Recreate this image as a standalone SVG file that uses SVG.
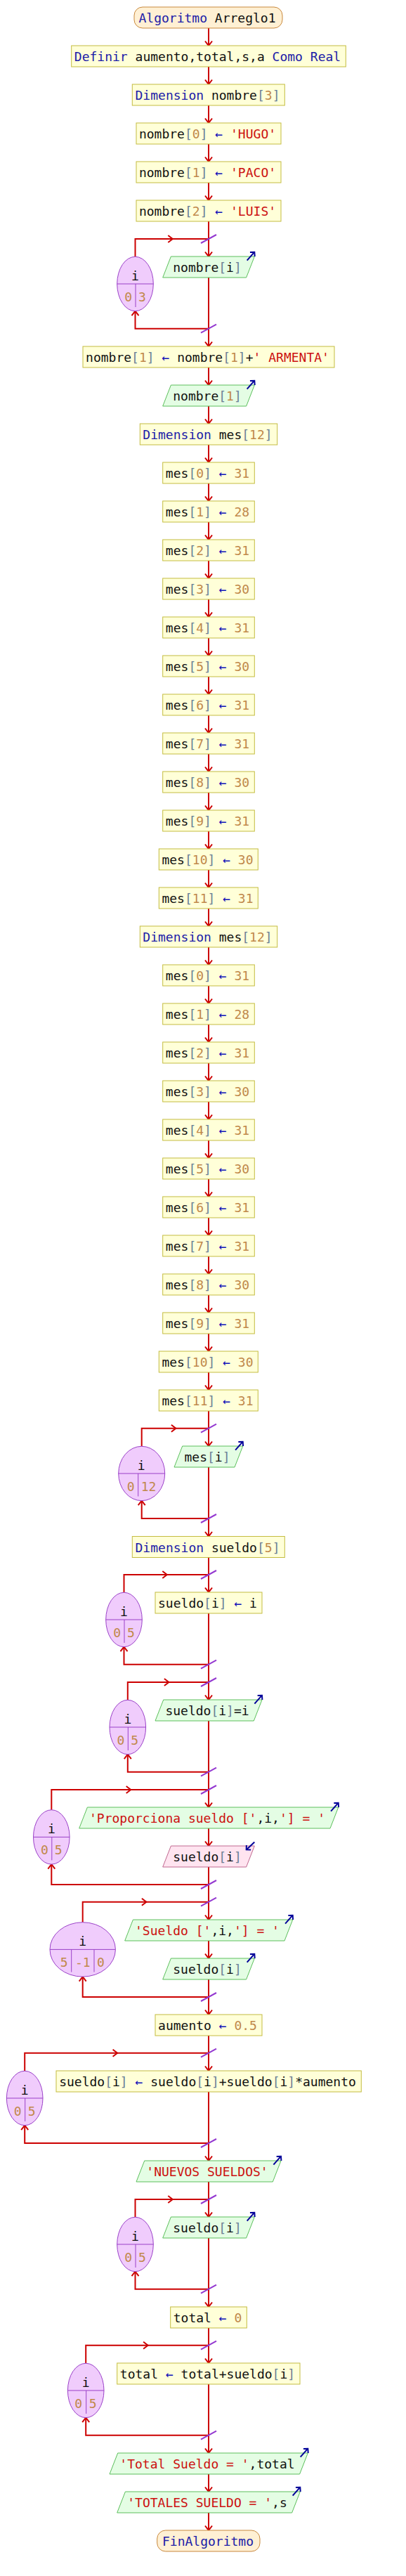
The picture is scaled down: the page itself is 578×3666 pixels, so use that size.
<svg xmlns="http://www.w3.org/2000/svg" width="578" height="3666" viewBox="0 0 578 3666">
<style>
.c{fill:none;stroke:#cc0000;stroke-width:2}
.m{marker-end:url(#ar)}
.t{fill:none;stroke:#9438d0;stroke-width:2}
.io{fill:none;stroke:#000099;stroke-width:2;marker-end:url(#ab)}
.pr{fill:#ffffd8;stroke:#c4bc40;stroke-width:1}
.se{fill:#fff0d4;stroke:#c8883c;stroke-width:1}
.ou{fill:#e4fde4;stroke:#5cbf5c;stroke-width:1}
.in{fill:#ffe4f0;stroke:#c06890;stroke-width:1}
.lp{fill:#f0ccfc;stroke:#9a40c8;stroke-width:1}
.ll{fill:none;stroke:#9a40c8;stroke-width:1}
text{font-family:"DejaVu Sans Mono","Liberation Mono",monospace;font-size:18px;fill:#111;text-anchor:middle}
text.e{text-anchor:end}
text.st{text-anchor:start}
.k{fill:#2020a8}
.n{fill:#c0884a}
.b{fill:#6b8096}
.s{fill:#cc1010}
.a{fill:#1010b8}
</style>
<defs>
<marker id="ar" viewBox="0 0 12 12" refX="11" refY="6" markerWidth="12" markerHeight="12" markerUnits="userSpaceOnUse" orient="auto" style="overflow:visible"><path d="M4.5,1 L11,6 L4.5,11" fill="none" stroke="#cc0000" stroke-width="2"/></marker>
<marker id="ab" viewBox="0 0 12 12" refX="11" refY="6" markerWidth="12" markerHeight="12" markerUnits="userSpaceOnUse" orient="auto" style="overflow:visible"><path d="M6.5,1.5 L11,6 L6.5,10.5" fill="none" stroke="#000099" stroke-width="2"/></marker>
</defs>
<rect width="578" height="3666" fill="#ffffff"/>
<g id="connectors">
<path class="c m" d="M297,40V65"/>
<path class="c m" d="M297,95V120"/>
<path class="c m" d="M297,150V175"/>
<path class="c m" d="M297,205V230"/>
<path class="c m" d="M297,260V285"/>
<path class="c m" d="M297,315V365"/>
<path class="c m" d="M297,395V493"/>
<path class="c m" d="M297,523V548"/>
<path class="c m" d="M297,578V603"/>
<path class="c m" d="M297,633V658"/>
<path class="c m" d="M297,688V713"/>
<path class="c m" d="M297,743V768"/>
<path class="c m" d="M297,798V823"/>
<path class="c m" d="M297,853V878"/>
<path class="c m" d="M297,908V933"/>
<path class="c m" d="M297,963V988"/>
<path class="c m" d="M297,1018V1043"/>
<path class="c m" d="M297,1073V1098"/>
<path class="c m" d="M297,1128V1153"/>
<path class="c m" d="M297,1183V1208"/>
<path class="c m" d="M297,1238V1263"/>
<path class="c m" d="M297,1293V1318"/>
<path class="c m" d="M297,1348V1373"/>
<path class="c m" d="M297,1403V1428"/>
<path class="c m" d="M297,1458V1483"/>
<path class="c m" d="M297,1513V1538"/>
<path class="c m" d="M297,1568V1593"/>
<path class="c m" d="M297,1623V1648"/>
<path class="c m" d="M297,1678V1703"/>
<path class="c m" d="M297,1733V1758"/>
<path class="c m" d="M297,1788V1813"/>
<path class="c m" d="M297,1843V1868"/>
<path class="c m" d="M297,1898V1923"/>
<path class="c m" d="M297,1953V1978"/>
<path class="c m" d="M297,2008V2058"/>
<path class="c m" d="M297,2088V2186.5"/>
<path class="c m" d="M297,2216.5V2266"/>
<path class="c m" d="M297,2296V2419"/>
<path class="c m" d="M297,2449V2572"/>
<path class="c m" d="M297,2602V2627"/>
<path class="c m" d="M297,2657V2732"/>
<path class="c m" d="M297,2762V2787"/>
<path class="c m" d="M297,2817V2867"/>
<path class="c m" d="M297,2897V2947"/>
<path class="c m" d="M297,2977V3075"/>
<path class="c m" d="M297,3105V3155"/>
<path class="c m" d="M297,3185V3283"/>
<path class="c m" d="M297,3313V3363"/>
<path class="c m" d="M297,3393V3491"/>
<path class="c m" d="M297,3521V3546"/>
<path class="c m" d="M297,3576V3601"/>
<path class="c m" d="M192.5,365.3V340H245.8"/><path class="c" d="M245.8,340H297"/><path class="c m" d="M297,467.7H192.5V442.7"/>
<path class="c m" d="M201.7,2058.3V2032.7H250.4"/><path class="c" d="M250.4,2032.7H297"/><path class="c m" d="M297,2161H201.7V2135.7"/>
<path class="c m" d="M176.5,2266.3V2241H237.8"/><path class="c" d="M237.8,2241H297"/><path class="c m" d="M297,2368.7H176.5V2343.7"/>
<path class="c m" d="M181.8,2419.3V2394H240.4"/><path class="c" d="M240.4,2394H297"/><path class="c m" d="M297,2521.7H181.8V2496.7"/>
<path class="c m" d="M73.3,2575.7V2547H186.2"/><path class="c" d="M186.2,2547H297"/><path class="c m" d="M297,2682H73.3V2653.1"/>
<path class="c m" d="M117.7,2735.7V2706.7H208.4"/><path class="c" d="M208.4,2706.7H297"/><path class="c m" d="M297,2842H117.7V2813.1"/>
<path class="c m" d="M35.2,2947.3V2921.7H167.1"/><path class="c" d="M167.1,2921.7H297"/><path class="c m" d="M297,3050H35.2V3024.7"/>
<path class="c m" d="M192.5,3155.3V3130H245.8"/><path class="c" d="M245.8,3130H297"/><path class="c m" d="M297,3257.7H192.5V3232.7"/>
<path class="c m" d="M122.2,3363.3V3337.7H210.6"/><path class="c" d="M210.6,3337.7H297"/><path class="c m" d="M297,3465.7H122.2V3440.7"/>
<path class="t" d="M286,346L308,334M286,473.7L308,461.7M286,2038.7L308,2026.7M286,2167L308,2155M286,2247L308,2235M286,2374.7L308,2362.7M286,2400L308,2388M286,2527.7L308,2515.7M286,2553L308,2541M286,2688L308,2676M286,2712.7L308,2700.7M286,2848L308,2836M286,2927.7L308,2915.7M286,3056L308,3044M286,3136L308,3124M286,3263.7L308,3251.7M286,3343.7L308,3331.7M286,3471.7L308,3459.7"/>
</g>
<g id="start"><rect class="se" x="191" y="10" width="211" height="30" rx="12"/><text x="295" y="32"><tspan class="k">Algoritmo</tspan> Arreglo1</text></g>
<g id="definir"><rect class="pr" x="101.7" y="65" width="390.6" height="30"/><text x="295.5" y="87"><tspan class="k">Definir</tspan> aumento,total,s,a <tspan class="k">Como Real</tspan></text></g>
<g id="dim-nombre"><rect class="pr" x="188.3" y="120" width="217" height="30"/><text x="295.5" y="142"><tspan class="k">Dimension</tspan> nombre<tspan class="b">[</tspan><tspan class="n">3</tspan><tspan class="b">]</tspan></text></g>
<g id="nombre0"><rect class="pr" x="194" y="175" width="206" height="30"/><text x="295.5" y="197">nombre<tspan class="b">[</tspan><tspan class="n">0</tspan><tspan class="b">]</tspan> <tspan class="a">←</tspan> <tspan class="s">'HUGO'</tspan></text></g>
<g id="nombre1"><rect class="pr" x="194" y="230" width="206" height="30"/><text x="295.5" y="252">nombre<tspan class="b">[</tspan><tspan class="n">1</tspan><tspan class="b">]</tspan> <tspan class="a">←</tspan> <tspan class="s">'PACO'</tspan></text></g>
<g id="nombre2"><rect class="pr" x="194" y="285" width="206" height="30"/><text x="295.5" y="307">nombre<tspan class="b">[</tspan><tspan class="n">2</tspan><tspan class="b">]</tspan> <tspan class="a">←</tspan> <tspan class="s">'LUIS'</tspan></text></g>
<g id="for1"><ellipse class="lp" cx="192.5" cy="404" rx="25.8" ry="38.7"/><path class="ll" d="M166.7,404H218.3M193,404V437"/><text x="192.5" y="399">i</text><text class="e n" x="188" y="429">0</text><text class="st n" x="197" y="429">3</text></g>
<g id="out-nombre-i"><polygon class="ou" points="243.4,365 362.3,365 350.6,395 231.7,395"/><path class="io" d="M351.7,370.7L362.3,358.7"/><text x="295" y="387">nombre<tspan class="b">[</tspan>i<tspan class="b">]</tspan></text></g>
<g id="armenta"><rect class="pr" x="118" y="493" width="358" height="30"/><text x="295.5" y="515">nombre<tspan class="b">[</tspan><tspan class="n">1</tspan><tspan class="b">]</tspan> <tspan class="a">←</tspan> nombre<tspan class="b">[</tspan><tspan class="n">1</tspan><tspan class="b">]</tspan>+<tspan class="s">' ARMENTA'</tspan></text></g>
<g id="out-nombre1"><polygon class="ou" points="243.4,548 362.3,548 350.6,578 231.7,578"/><path class="io" d="M351.7,553.7L362.3,541.7"/><text x="295" y="570">nombre<tspan class="b">[</tspan><tspan class="n">1</tspan><tspan class="b">]</tspan></text></g>
<g id="dim-mes-a"><rect class="pr" x="199.3" y="603" width="195.4" height="30"/><text x="295.5" y="625"><tspan class="k">Dimension</tspan> mes<tspan class="b">[</tspan><tspan class="n">12</tspan><tspan class="b">]</tspan></text></g>
<g id="mes-a0"><rect class="pr" x="231.7" y="658" width="130.6" height="30"/><text x="295.5" y="680">mes<tspan class="b">[</tspan><tspan class="n">0</tspan><tspan class="b">]</tspan> <tspan class="a">←</tspan> <tspan class="n">31</tspan></text></g>
<g id="mes-a1"><rect class="pr" x="231.7" y="713" width="130.6" height="30"/><text x="295.5" y="735">mes<tspan class="b">[</tspan><tspan class="n">1</tspan><tspan class="b">]</tspan> <tspan class="a">←</tspan> <tspan class="n">28</tspan></text></g>
<g id="mes-a2"><rect class="pr" x="231.7" y="768" width="130.6" height="30"/><text x="295.5" y="790">mes<tspan class="b">[</tspan><tspan class="n">2</tspan><tspan class="b">]</tspan> <tspan class="a">←</tspan> <tspan class="n">31</tspan></text></g>
<g id="mes-a3"><rect class="pr" x="231.7" y="823" width="130.6" height="30"/><text x="295.5" y="845">mes<tspan class="b">[</tspan><tspan class="n">3</tspan><tspan class="b">]</tspan> <tspan class="a">←</tspan> <tspan class="n">30</tspan></text></g>
<g id="mes-a4"><rect class="pr" x="231.7" y="878" width="130.6" height="30"/><text x="295.5" y="900">mes<tspan class="b">[</tspan><tspan class="n">4</tspan><tspan class="b">]</tspan> <tspan class="a">←</tspan> <tspan class="n">31</tspan></text></g>
<g id="mes-a5"><rect class="pr" x="231.7" y="933" width="130.6" height="30"/><text x="295.5" y="955">mes<tspan class="b">[</tspan><tspan class="n">5</tspan><tspan class="b">]</tspan> <tspan class="a">←</tspan> <tspan class="n">30</tspan></text></g>
<g id="mes-a6"><rect class="pr" x="231.7" y="988" width="130.6" height="30"/><text x="295.5" y="1010">mes<tspan class="b">[</tspan><tspan class="n">6</tspan><tspan class="b">]</tspan> <tspan class="a">←</tspan> <tspan class="n">31</tspan></text></g>
<g id="mes-a7"><rect class="pr" x="231.7" y="1043" width="130.6" height="30"/><text x="295.5" y="1065">mes<tspan class="b">[</tspan><tspan class="n">7</tspan><tspan class="b">]</tspan> <tspan class="a">←</tspan> <tspan class="n">31</tspan></text></g>
<g id="mes-a8"><rect class="pr" x="231.7" y="1098" width="130.6" height="30"/><text x="295.5" y="1120">mes<tspan class="b">[</tspan><tspan class="n">8</tspan><tspan class="b">]</tspan> <tspan class="a">←</tspan> <tspan class="n">30</tspan></text></g>
<g id="mes-a9"><rect class="pr" x="231.7" y="1153" width="130.6" height="30"/><text x="295.5" y="1175">mes<tspan class="b">[</tspan><tspan class="n">9</tspan><tspan class="b">]</tspan> <tspan class="a">←</tspan> <tspan class="n">31</tspan></text></g>
<g id="mes-a10"><rect class="pr" x="226.3" y="1208" width="141" height="30"/><text x="295.5" y="1230">mes<tspan class="b">[</tspan><tspan class="n">10</tspan><tspan class="b">]</tspan> <tspan class="a">←</tspan> <tspan class="n">30</tspan></text></g>
<g id="mes-a11"><rect class="pr" x="226.3" y="1263" width="141" height="30"/><text x="295.5" y="1285">mes<tspan class="b">[</tspan><tspan class="n">11</tspan><tspan class="b">]</tspan> <tspan class="a">←</tspan> <tspan class="n">31</tspan></text></g>
<g id="dim-mes-b"><rect class="pr" x="199.3" y="1318" width="195.4" height="30"/><text x="295.5" y="1340"><tspan class="k">Dimension</tspan> mes<tspan class="b">[</tspan><tspan class="n">12</tspan><tspan class="b">]</tspan></text></g>
<g id="mes-b0"><rect class="pr" x="231.7" y="1373" width="130.6" height="30"/><text x="295.5" y="1395">mes<tspan class="b">[</tspan><tspan class="n">0</tspan><tspan class="b">]</tspan> <tspan class="a">←</tspan> <tspan class="n">31</tspan></text></g>
<g id="mes-b1"><rect class="pr" x="231.7" y="1428" width="130.6" height="30"/><text x="295.5" y="1450">mes<tspan class="b">[</tspan><tspan class="n">1</tspan><tspan class="b">]</tspan> <tspan class="a">←</tspan> <tspan class="n">28</tspan></text></g>
<g id="mes-b2"><rect class="pr" x="231.7" y="1483" width="130.6" height="30"/><text x="295.5" y="1505">mes<tspan class="b">[</tspan><tspan class="n">2</tspan><tspan class="b">]</tspan> <tspan class="a">←</tspan> <tspan class="n">31</tspan></text></g>
<g id="mes-b3"><rect class="pr" x="231.7" y="1538" width="130.6" height="30"/><text x="295.5" y="1560">mes<tspan class="b">[</tspan><tspan class="n">3</tspan><tspan class="b">]</tspan> <tspan class="a">←</tspan> <tspan class="n">30</tspan></text></g>
<g id="mes-b4"><rect class="pr" x="231.7" y="1593" width="130.6" height="30"/><text x="295.5" y="1615">mes<tspan class="b">[</tspan><tspan class="n">4</tspan><tspan class="b">]</tspan> <tspan class="a">←</tspan> <tspan class="n">31</tspan></text></g>
<g id="mes-b5"><rect class="pr" x="231.7" y="1648" width="130.6" height="30"/><text x="295.5" y="1670">mes<tspan class="b">[</tspan><tspan class="n">5</tspan><tspan class="b">]</tspan> <tspan class="a">←</tspan> <tspan class="n">30</tspan></text></g>
<g id="mes-b6"><rect class="pr" x="231.7" y="1703" width="130.6" height="30"/><text x="295.5" y="1725">mes<tspan class="b">[</tspan><tspan class="n">6</tspan><tspan class="b">]</tspan> <tspan class="a">←</tspan> <tspan class="n">31</tspan></text></g>
<g id="mes-b7"><rect class="pr" x="231.7" y="1758" width="130.6" height="30"/><text x="295.5" y="1780">mes<tspan class="b">[</tspan><tspan class="n">7</tspan><tspan class="b">]</tspan> <tspan class="a">←</tspan> <tspan class="n">31</tspan></text></g>
<g id="mes-b8"><rect class="pr" x="231.7" y="1813" width="130.6" height="30"/><text x="295.5" y="1835">mes<tspan class="b">[</tspan><tspan class="n">8</tspan><tspan class="b">]</tspan> <tspan class="a">←</tspan> <tspan class="n">30</tspan></text></g>
<g id="mes-b9"><rect class="pr" x="231.7" y="1868" width="130.6" height="30"/><text x="295.5" y="1890">mes<tspan class="b">[</tspan><tspan class="n">9</tspan><tspan class="b">]</tspan> <tspan class="a">←</tspan> <tspan class="n">31</tspan></text></g>
<g id="mes-b10"><rect class="pr" x="226.3" y="1923" width="141" height="30"/><text x="295.5" y="1945">mes<tspan class="b">[</tspan><tspan class="n">10</tspan><tspan class="b">]</tspan> <tspan class="a">←</tspan> <tspan class="n">30</tspan></text></g>
<g id="mes-b11"><rect class="pr" x="226.3" y="1978" width="141" height="30"/><text x="295.5" y="2000">mes<tspan class="b">[</tspan><tspan class="n">11</tspan><tspan class="b">]</tspan> <tspan class="a">←</tspan> <tspan class="n">31</tspan></text></g>
<g id="for2"><ellipse class="lp" cx="201.7" cy="2097" rx="33" ry="38.7"/><path class="ll" d="M168.7,2097H234.7M196.7,2097V2129.5"/><text x="201.2" y="2092">i</text><text class="e n" x="191.7" y="2122">0</text><text class="st n" x="200.7" y="2122">12</text></g>
<g id="out-mes-i"><polygon class="ou" points="259.7,2058 345.7,2058 334,2088 248,2088"/><path class="io" d="M335.1,2063.7L345.7,2051.7"/><text x="295" y="2080">mes<tspan class="b">[</tspan>i<tspan class="b">]</tspan></text></g>
<g id="dim-sueldo"><rect class="pr" x="188.3" y="2186.5" width="217" height="30"/><text x="295.5" y="2208.5"><tspan class="k">Dimension</tspan> sueldo<tspan class="b">[</tspan><tspan class="n">5</tspan><tspan class="b">]</tspan></text></g>
<g id="for3"><ellipse class="lp" cx="176.5" cy="2305" rx="25.8" ry="38.7"/><path class="ll" d="M150.7,2305H202.3M177,2305V2338"/><text x="176.5" y="2300">i</text><text class="e n" x="172" y="2330">0</text><text class="st n" x="181" y="2330">5</text></g>
<g id="sueldo-i-i"><rect class="pr" x="221" y="2266" width="152" height="30"/><text x="295.5" y="2288">sueldo<tspan class="b">[</tspan>i<tspan class="b">]</tspan> <tspan class="a">←</tspan> i</text></g>
<g id="for4"><ellipse class="lp" cx="181.8" cy="2458" rx="25.8" ry="38.7"/><path class="ll" d="M156,2458H207.6M182.3,2458V2491"/><text x="181.8" y="2453">i</text><text class="e n" x="177.3" y="2483">0</text><text class="st n" x="186.3" y="2483">5</text></g>
<g id="out-sueldo-eq"><polygon class="ou" points="232.7,2419 373,2419 361.3,2449 221,2449"/><path class="io" d="M362.4,2424.7L373,2412.7"/><text x="295" y="2441">sueldo<tspan class="b">[</tspan>i<tspan class="b">]</tspan>=i</text></g>
<g id="for5"><ellipse class="lp" cx="73.3" cy="2614.4" rx="25.8" ry="38.7"/><path class="ll" d="M47.5,2614.4H99.1M73.8,2614.4V2647.4"/><text x="73.3" y="2609.4">i</text><text class="e n" x="68.8" y="2639.4">0</text><text class="st n" x="77.8" y="2639.4">5</text></g>
<g id="out-proporciona"><polygon class="ou" points="124.4,2572 481.7,2572 470,2602 112.7,2602"/><path class="io" d="M471.1,2577.7L481.7,2565.7"/><text x="295" y="2594"><tspan class="s">'Proporciona sueldo ['</tspan>,i,<tspan class="s">'] = '</tspan></text></g>
<g id="in-sueldo"><polygon class="in" points="243.4,2627 362.3,2627 350.6,2657 231.7,2657"/><path class="io" d="M362.3,2621.4L350.7,2632.4"/><text x="295" y="2649">sueldo<tspan class="b">[</tspan>i<tspan class="b">]</tspan></text></g>
<g id="for6"><ellipse class="lp" cx="117.7" cy="2774.4" rx="46.7" ry="38.7"/><path class="ll" d="M71,2774.4H164.4M101.7,2774.4V2806.5M134,2774.4V2806.5"/><text x="117.7" y="2769.4">i</text><text class="e n" x="96.7" y="2799.4">5</text><text class="n" x="117.85" y="2799.4">-1</text><text class="st n" x="138" y="2799.4">0</text></g>
<g id="out-sueldo-label"><polygon class="ou" points="189.4,2732 416.7,2732 405,2762 177.7,2762"/><path class="io" d="M406.1,2737.7L416.7,2725.7"/><text x="295" y="2754"><tspan class="s">'Sueldo ['</tspan>,i,<tspan class="s">'] = '</tspan></text></g>
<g id="out-sueldo-val"><polygon class="ou" points="243.4,2787 362.3,2787 350.6,2817 231.7,2817"/><path class="io" d="M351.7,2792.7L362.3,2780.7"/><text x="295" y="2809">sueldo<tspan class="b">[</tspan>i<tspan class="b">]</tspan></text></g>
<g id="aumento"><rect class="pr" x="221" y="2867" width="152" height="30"/><text x="295.5" y="2889">aumento <tspan class="a">←</tspan> <tspan class="n">0.5</tspan></text></g>
<g id="for7"><ellipse class="lp" cx="35.2" cy="2986" rx="25.8" ry="38.7"/><path class="ll" d="M9.4,2986H61M35.7,2986V3019"/><text x="35.2" y="2981">i</text><text class="e n" x="30.7" y="3011">0</text><text class="st n" x="39.7" y="3011">5</text></g>
<g id="sueldo-calc"><rect class="pr" x="80" y="2947" width="434.3" height="30"/><text x="295.5" y="2969">sueldo<tspan class="b">[</tspan>i<tspan class="b">]</tspan> <tspan class="a">←</tspan> sueldo<tspan class="b">[</tspan>i<tspan class="b">]</tspan>+sueldo<tspan class="b">[</tspan>i<tspan class="b">]</tspan>*aumento</text></g>
<g id="out-nuevos"><polygon class="ou" points="205.7,3075 400,3075 388.3,3105 194,3105"/><path class="io" d="M389.4,3080.7L400,3068.7"/><text x="295" y="3097"><tspan class="s">'NUEVOS SUELDOS'</tspan></text></g>
<g id="for8"><ellipse class="lp" cx="192.5" cy="3194" rx="25.8" ry="38.7"/><path class="ll" d="M166.7,3194H218.3M193,3194V3227"/><text x="192.5" y="3189">i</text><text class="e n" x="188" y="3219">0</text><text class="st n" x="197" y="3219">5</text></g>
<g id="out-sueldo-new"><polygon class="ou" points="243.4,3155 362.3,3155 350.6,3185 231.7,3185"/><path class="io" d="M351.7,3160.7L362.3,3148.7"/><text x="295" y="3177">sueldo<tspan class="b">[</tspan>i<tspan class="b">]</tspan></text></g>
<g id="total0"><rect class="pr" x="242.7" y="3283" width="108.6" height="30"/><text x="295.5" y="3305">total <tspan class="a">←</tspan> <tspan class="n">0</tspan></text></g>
<g id="for9"><ellipse class="lp" cx="122.2" cy="3402" rx="25.8" ry="38.7"/><path class="ll" d="M96.4,3402H148M122.7,3402V3435"/><text x="122.2" y="3397">i</text><text class="e n" x="117.2" y="3427">0</text><text class="st n" x="126.7" y="3427">5</text></g>
<g id="total-sum"><rect class="pr" x="166.7" y="3363" width="260.3" height="30"/><text x="295.5" y="3385">total <tspan class="a">←</tspan> total+sueldo<tspan class="b">[</tspan>i<tspan class="b">]</tspan></text></g>
<g id="out-total"><polygon class="ou" points="167.7,3491 438.3,3491 426.6,3521 156,3521"/><path class="io" d="M427.7,3496.7L438.3,3484.7"/><text x="295" y="3513"><tspan class="s">'Total Sueldo = '</tspan>,total</text></g>
<g id="out-totales"><polygon class="ou" points="178.4,3546 427.3,3546 415.6,3576 166.7,3576"/><path class="io" d="M416.7,3551.7L427.3,3539.7"/><text x="295" y="3568"><tspan class="s">'TOTALES SUELDO = '</tspan>,s</text></g>
<g id="end"><rect class="se" x="223.7" y="3601" width="146.3" height="30" rx="12"/><text x="296" y="3623"><tspan class="k">FinAlgoritmo</tspan></text></g>
</svg>
